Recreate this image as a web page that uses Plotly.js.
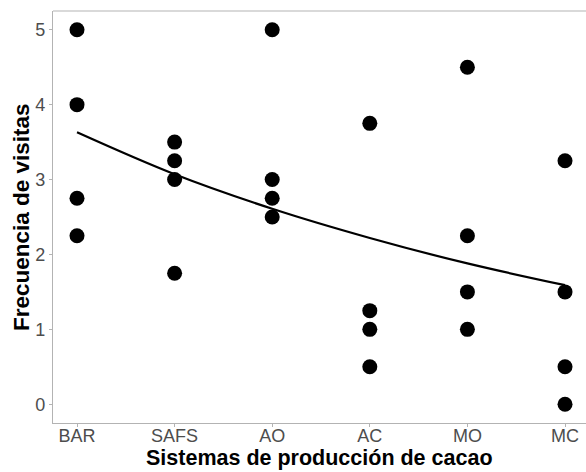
<!DOCTYPE html>
<html><head><meta charset="utf-8">
<script src="https://cdn.plot.ly/plotly-3.0.1.min.js"></script>
<style>html,body{margin:0;padding:0;background:#fff}</style>
</head><body>
<div id="chart" style="width:586px;height:472px"></div>
<script>
const categories = ["BAR","SAFS","AO","AC","MO","MC"];
const sistemaPts = ["BAR","BAR","BAR","BAR","SAFS","SAFS","SAFS","SAFS","AO","AO","AO","AO","AC","AC","AC","AC","MO","MO","MO","MO","MC","MC","MC","MC"];
const visitas = [5,4,2.75,2.25, 3.5,3.25,3,1.75, 5,3,2.75,2.5, 3.75,1.25,1,0.5, 4.5,2.25,1.5,1, 3.25,1.5,0.5,0];
const ajuste = [3.63,3.07,2.61,2.22,1.88,1.59];
const yTicks = [0,1,2,3,4,5];
const xTitle = "Sistemas de producción de cacao";
const yTitle = "Frecuencia de visitas";

const tickFont = {family:"Liberation Sans, Arial, sans-serif", size:18, color:"#4d4d4d"};
const titleFont = {family:"Liberation Sans, Arial, sans-serif", size:22.5, color:"#000", weight:"bold"};
const xTitleFont = {family:"Liberation Sans, Arial, sans-serif", size:21.5, color:"#000", weight:"bold"};

Plotly.newPlot("chart", [
  {x:categories, y:ajuste, type:"scatter", mode:"lines", line:{color:"#000", width:2.2, shape:"spline"}, hoverinfo:"skip"},
  {x:sistemaPts, y:visitas, type:"scatter", mode:"markers", marker:{color:"#000", size:15}}
], {
  width:586, height:472,
  margin:{l:53, r:0, t:11, b:49},
  paper_bgcolor:"#fff", plot_bgcolor:"#fff",
  showlegend:false,
  xaxis:{type:"category", categoryorder:"array", categoryarray:categories, range:[-0.246,5.215],
    showgrid:false, zeroline:false, showline:true, linecolor:"#b3b3b3", linewidth:1.2,
    ticks:"outside", ticklen:3, tickcolor:"#b3b3b3", tickfont:tickFont, automargin:false, ticklabelstandoff:-7},
  yaxis:{range:[-0.25,5.25], tickvals:yTicks, showgrid:false, zeroline:false, showline:true, linecolor:"#b3b3b3", linewidth:1.2,
    ticks:"outside", ticklen:3, tickcolor:"#b3b3b3", tickfont:tickFont, automargin:false},
  shapes:[{type:"line", xref:"paper", yref:"paper", x0:0, x1:1, y0:1, y1:1, line:{color:"#b3b3b3", width:1.2}}],
  annotations:[
    {text:xTitle, xref:"paper", yref:"paper", x:0.5, y:-0.085, xanchor:"center", yanchor:"middle", showarrow:false, font:xTitleFont},
    {text:yTitle, xref:"paper", yref:"paper", x:-0.060, y:0.5, xanchor:"center", yanchor:"middle", textangle:-90, showarrow:false, font:titleFont}
  ]
}, {displayModeBar:false, staticPlot:true});
</script>
</body></html>
